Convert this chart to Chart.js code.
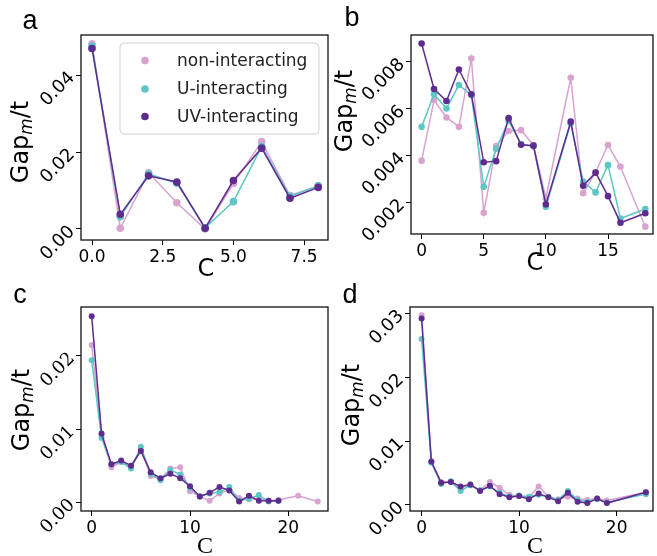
<!DOCTYPE html>
<html><head><meta charset="utf-8">
<script src="https://cdn.jsdelivr.net/npm/chart.js@4"></script>
<style>
body{margin:0;background:#fff;}
#fig{position:relative;width:657px;height:556px;overflow:hidden;background:#fff;font-family:"DejaVu Sans",sans-serif;}
canvas{position:absolute;left:0;top:0;}
.lbl{position:absolute;white-space:nowrap;color:#000;transform:translate(-50%,-50%);line-height:1;font-size:24px;}
.ylab{transform:translate(-50%,-50%) rotate(-90deg);}
.pl{font-family:"Liberation Sans",Arial,sans-serif;font-size:27px;}
.serif{font-family:"Liberation Serif","Times New Roman",serif;}
sub{font-size:0.7em;font-style:italic;vertical-align:-0.25em;}
</style>
</head><body>
<div id="fig">
<canvas id="ca" width="657" height="556"></canvas>
<canvas id="cb" width="657" height="556"></canvas>
<canvas id="cc" width="657" height="556"></canvas>
<canvas id="cd" width="657" height="556"></canvas>
<div class="lbl pl" style="left:30px;top:20px">a</div>
<div class="lbl pl" style="left:352px;top:17px">b</div>
<div class="lbl pl" style="left:20px;top:294px">c</div>
<div class="lbl pl" style="left:350px;top:294px">d</div>
<div class="lbl ylab" style="left:21px;top:142px">Gap<sub>m</sub>/t</div>
<div class="lbl ylab" style="left:345px;top:111px">Gap<sub>m</sub>/t</div>
<div class="lbl ylab" style="left:22px;top:410px">Gap<sub>m</sub>/t</div>
<div class="lbl ylab" style="left:352px;top:405px">Gap<sub>m</sub>/t</div>
<div class="lbl" style="left:206px;top:268px">C</div>
<div class="lbl" style="left:535px;top:262px">C</div>
<div class="lbl serif" style="left:205px;top:545px">C</div>
<div class="lbl serif" style="left:535px;top:545px">C</div>
</div>
<script>
// ---------- data ----------
const seriesNames = ['non-interacting', 'U-interacting', 'UV-interacting'];

// panel a
const aC   = [0, 1, 2, 3, 4, 5, 6, 7, 8];
const aNon = [0.0481, 0.0002, 0.0146, 0.0068, 0.0000, 0.0118, 0.0227, 0.0087, 0.0112];
const aU   = [0.0475, 0.0032, 0.0143, 0.0119, 0.0003, 0.0071, 0.0214, 0.0085, 0.0112];
const aUV  = [0.0469, 0.0038, 0.0138, 0.0122, 0.0002, 0.0126, 0.0210, 0.0080, 0.0108];
const aXTicks = [0, 2.5, 5, 7.5];
const aYTicks = [0, 0.02, 0.04];

// panel b
const bC   = [0, 1, 2, 3, 4, 5, 6, 7, 8, 9, 10, 12, 13, 14, 15, 16, 18];
const bNon = [0.00379, 0.00637, 0.00563, 0.00523, 0.00814, 0.00157, 0.00441, 0.00505, 0.00509, 0.00445, 0.00220, 0.00732, 0.00240, 0.00330, 0.00446, 0.00353, 0.00098];
const bU   = [0.00523, 0.00662, 0.00601, 0.00701, 0.00658, 0.00268, 0.00430, 0.00549, 0.00450, 0.00440, 0.00183, 0.00538, 0.00290, 0.00244, 0.00360, 0.00133, 0.00173];
const bUV  = [0.00878, 0.00684, 0.00633, 0.00767, 0.00662, 0.00372, 0.00377, 0.00560, 0.00447, 0.00443, 0.00193, 0.00545, 0.00272, 0.00328, 0.00228, 0.00115, 0.00155];
const bXTicks = [0, 5, 10, 15];
const bYTicks = [0.002, 0.004, 0.006, 0.008];

// panel c
const cCNon = [0, 1, 2, 3, 4, 5, 6, 7, 8, 9, 10, 11, 12, 13, 14, 15, 16, 17, 18, 19, 21, 23];
const cC    = [0, 1, 2, 3, 4, 5, 6, 7, 8, 9, 10, 11, 12, 13, 14, 15, 16, 17, 18, 19];
const cNon  = [0.0215, 0.0092, 0.0048, 0.0055, 0.0047, 0.0072, 0.0036, 0.0032, 0.0046, 0.0048, 0.0015, 0.0008, 0.0002, 0.0012, 0.0017, 0.0006, 0.0004, 0.0005, 0.0002, 0.0003, 0.0009, 0.0001];
const cU    = [0.0194, 0.0088, 0.0052, 0.0055, 0.0046, 0.0076, 0.0039, 0.0030, 0.0044, 0.0038, 0.0020, 0.0008, 0.0012, 0.0014, 0.0021, 0.0002, 0.0005, 0.0010, 0.0001, 0.0002];
const cUV   = [0.0254, 0.0094, 0.0052, 0.0057, 0.0050, 0.0070, 0.0041, 0.0033, 0.0039, 0.0033, 0.0022, 0.0008, 0.0013, 0.0021, 0.0016, 0.0001, 0.0009, 0.0002, 0.0002, 0.0002];
const cXTicks = [0, 10, 20];
const cYTicks = [0, 0.01, 0.02];

// panel d
const dC   = [0, 1, 2, 3, 4, 5, 6, 7, 8, 9, 10, 11, 12, 13, 14, 15, 16, 17, 18, 19, 23];
const dNon = [0.0297, 0.0068, 0.0036, 0.0036, 0.0028, 0.0031, 0.0023, 0.0036, 0.0027, 0.0016, 0.0014, 0.0012, 0.0029, 0.0013, 0.0009, 0.0013, 0.0010, 0.0008, 0.0010, 0.0007, 0.0020];
const dU   = [0.0260, 0.0066, 0.0033, 0.0037, 0.0022, 0.0031, 0.0023, 0.0029, 0.0019, 0.0013, 0.0015, 0.0013, 0.0016, 0.0013, 0.0008, 0.0022, 0.0008, 0.0005, 0.0009, 0.0004, 0.0017];
const dUV  = [0.0292, 0.0068, 0.0035, 0.0036, 0.0029, 0.0032, 0.0022, 0.0030, 0.0017, 0.0012, 0.0014, 0.0009, 0.0018, 0.0012, 0.0006, 0.0019, 0.0005, 0.0003, 0.0010, 0.0003, 0.0020];
const dXTicks = [0, 10, 20];
const dYTicks = [0, 0.01, 0.02, 0.03];

// ---------- drawing ----------
const W = 657, H = 556;
const cols = ['#d9a3d0', '#5cc7c4', '#5e2b8f'];

function pts(xs, ys) { return xs.map((x, i) => ({x: x, y: ys[i]})); }

const boxPlugin = {
  id: 'box',
  afterDraw(chart) {
    const a = chart.chartArea, c = chart.ctx;
    c.save(); c.strokeStyle = '#111'; c.lineWidth = 1.3;
    c.strokeRect(a.left, a.top, a.right - a.left, a.bottom - a.top);
    c.restore();
  }
};

const legendPlugin = {
  id: 'legendA',
  afterDraw(chart) {
    const c = chart.ctx;
    c.save();
    const x0 = 120, y0 = 43, w = 199, h = 91, r = 4;
    c.beginPath();
    c.moveTo(x0 + r, y0); c.lineTo(x0 + w - r, y0); c.quadraticCurveTo(x0 + w, y0, x0 + w, y0 + r);
    c.lineTo(x0 + w, y0 + h - r); c.quadraticCurveTo(x0 + w, y0 + h, x0 + w - r, y0 + h);
    c.lineTo(x0 + r, y0 + h); c.quadraticCurveTo(x0, y0 + h, x0, y0 + h - r);
    c.lineTo(x0, y0 + r); c.quadraticCurveTo(x0, y0, x0 + r, y0);
    c.closePath();
    c.fillStyle = 'rgba(255,255,255,0.8)'; c.fill();
    c.strokeStyle = '#d0d0d0'; c.lineWidth = 1; c.stroke();
    const rows = [60.5, 89, 116.5];
    c.font = '17px "DejaVu Sans"'; c.textBaseline = 'middle'; c.textAlign = 'left';
    seriesNames.forEach((n, k) => {
      c.fillStyle = cols[k];
      c.beginPath(); c.arc(145, rows[k], 3.8, 0, Math.PI * 2); c.fill();
      c.fillStyle = '#222';
      c.fillText(n, 177, rows[k] + 1);
    });
    c.restore();
  }
};

function panel(id, box, xr, yr, xTicks, yTicks, xDec, yDec, series, radius, yFamily, extra) {
  const Wy = 50, Hx = 30;
  const ds = series.map((s, k) => ({
    label: seriesNames[k], data: pts(s[0], s[1]),
    borderColor: cols[k], backgroundColor: cols[k],
    pointBackgroundColor: cols[k], pointBorderColor: cols[k],
    borderWidth: 1.5, pointRadius: radius, pointBorderWidth: 0, order: 2 - k, tension: 0
  }));
  const plugins = [boxPlugin];
  if (extra) plugins.push(extra);
  new Chart(document.getElementById(id), {
    type: 'line',
    data: {datasets: ds},
    options: {
      responsive: false, animation: false,
      layout: {padding: {left: box[0] - Wy, top: box[1], right: W - box[2], bottom: H - box[3] - Hx}},
      plugins: {legend: {display: false}, tooltip: {enabled: false}},
      scales: {
        x: {
          type: 'linear', min: xr[0], max: xr[1],
          afterBuildTicks: s => { s.ticks = xTicks.map(v => ({value: v})); },
          afterFit: s => { s.height = Hx; s.paddingLeft = 0; s.paddingRight = 0; },
          ticks: {autoSkip: false, maxRotation: 0, minRotation: 0, padding: 2, color: '#000',
                  font: {family: 'DejaVu Sans', size: 17}, callback: v => Number(v).toFixed(xDec)},
          grid: {display: true, drawOnChartArea: false, drawTicks: true, tickLength: 5, tickColor: '#000', tickWidth: 1},
          border: {display: false}
        },
        y: {
          type: 'linear', min: yr[0], max: yr[1],
          afterBuildTicks: s => { s.ticks = yTicks.map(v => ({value: v})); },
          afterFit: s => { s.width = Wy; s.paddingTop = 0; s.paddingBottom = 0; },
          ticks: {autoSkip: false, minRotation: 45, maxRotation: 45, padding: 4, color: '#000',
                  font: {family: yFamily, size: 18}, callback: v => Number(v).toFixed(yDec)},
          grid: {display: true, drawOnChartArea: false, drawTicks: true, tickLength: 5, tickColor: '#000', tickWidth: 1},
          border: {display: false}
        }
      }
    },
    plugins: plugins
  });
}

panel('ca', [81, 35, 328, 240], [-0.389, 8.345], [-0.00286, 0.0504], aXTicks, aYTicks, 1, 2,
      [[aC, aNon], [aC, aU], [aC, aUV]], 3.8, 'DejaVu Sans', legendPlugin);
panel('cb', [411, 35, 655, 234], [-0.854, 18.62], [0.000668, 0.00914], bXTicks, bYTicks, 0, 3,
      [[bC, bNon], [bC, bU], [bC, bUV]], 3.3, 'DejaVu Sans');
panel('cc', [81, 307, 328, 511], [-1.09, 24.04], [-0.00119, 0.02668], cXTicks, cYTicks, 0, 2,
      [[cCNon, cNon], [cC, cU], [cC, cUV]], 3, 'DejaVu Serif');
panel('cd', [410, 307, 655, 511], [-1.19, 23.73], [-0.00094, 0.031], dXTicks, dYTicks, 0, 2,
      [[dC, dNon], [dC, dU], [dC, dUV]], 3, 'DejaVu Sans');
</script>
</body></html>
